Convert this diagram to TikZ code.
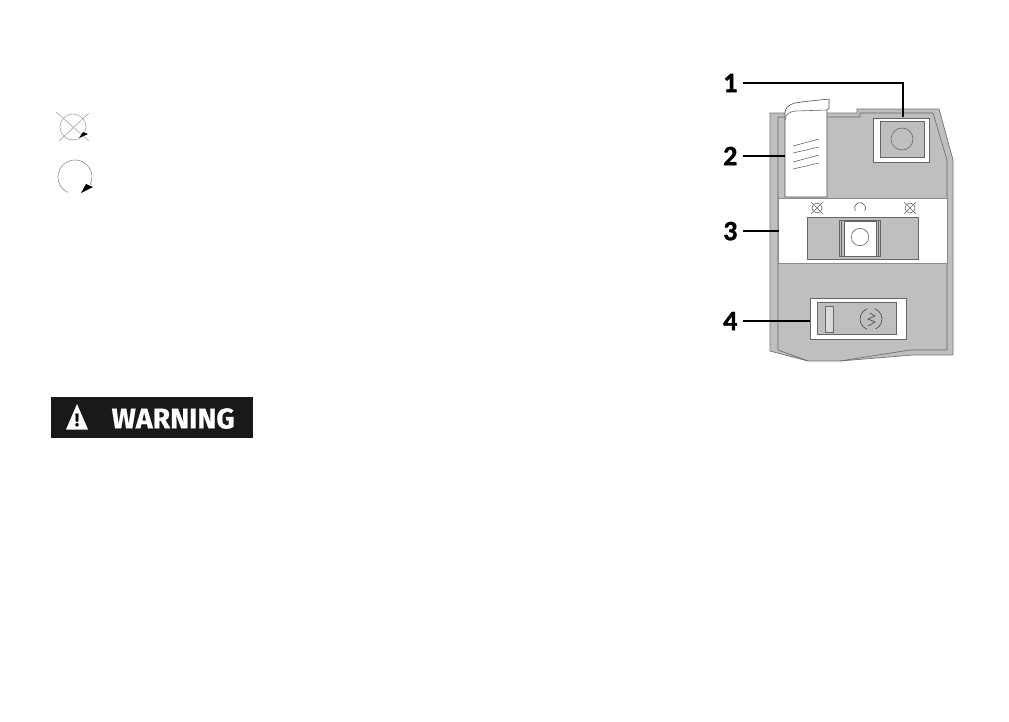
\documentclass[tikz,border=0pt]{standalone}
\usepackage{fontspec}
\newfontfamily\labelfont[FakeBold=1.2]{Carlito}
\newfontfamily\signfont[FakeBold=0.6]{Fira Sans}
\tikzset{
	body/.style={draw=black!55, line width=0.7pt, fill=black!25},
	sheet/.style={draw=black!60, line width=0.6pt, fill=white},
	thin line/.style={draw=black!60, line width=0.6pt},
	lamp/.style={draw=black!35, line width=0.6pt},
	leader/.style={draw=black, line width=1.5pt},
	numlabel/.style={font=\labelfont\bfseries\fontsize{28}{28}\selectfont, anchor=east, minimum width=25pt, inner sep=0pt, text depth=0pt},
}
\begin{document}
\begin{tikzpicture}[x=1pt, y=-1pt]
	\useasboundingbox (0,0) rectangle (1009,721);
	% lamp symbols on the left
	\path[lamp] (73,127) circle[radius=13];
	\draw[lamp] (56,112) -- (89,141) (89,113) -- (59,141);
	\fill[black] (79,138) -- (83,132) -- (88,134) -- cycle;
	\draw[lamp, draw=black!45] (75,177) ++(115:17) arc[start angle=115, end angle=387, radius=17];
	\fill[black] (81,193) -- (86,184) -- (93,187) -- cycle;
	% warning sign
	\node[fill=black!90, minimum width=202pt, minimum height=41pt, inner sep=0pt] (warnsign) at (152,417.5) {};
	\fill[white] (66,429.5) -- (88,429.5) -- (77,404) -- cycle;
	\node[text=black, font=\signfont\bfseries\fontsize{18}{18}\selectfont, inner sep=0pt] (warnmark) at (77,420) {!};
	\node[text=white, font=\signfont\bfseries\fontsize{28.5}{28.5}\selectfont, inner sep=0pt, anchor=west] (warntext) at (111.5,418.5) {WARNING};
	% housing
	\path[body] (770,113) -- (857,113) -- (857,109) -- (939,109) -- (953,160) -- (953,355)
		-- (913,355) -- (840,361) -- (808,361) -- (770,351) -- cycle;
	\draw[thin line] (778,117) -- (860,117) -- (860,113) -- (933,113) -- (947,160) -- (947,350)
		-- (910,350) -- (840,361) (778,117) -- (778,350) -- (808,361);
	\path[sheet, draw=black!45] (778,198) rectangle (947,263);
	% flap
	\path[sheet, draw=black!70] (785,197) -- (827,197) -- (827,110) -- (829,108) -- (829,99)
		.. controls (810,101) and (800,102) .. (795,103)
		.. controls (788,105) and (785,108) .. (785,113) -- cycle;
	\draw[thin line] (785,120) .. controls (786,114) and (789,112) .. (795,111) -- (827,110);
	\foreach \ya/\yb in {146/139, 153/147, 162/155, 169/163}
		\draw[thin line] (793,\ya) -- (819,\yb);
	% upper button
	\path[sheet] (873,118) rectangle (929,162);
	\path[thin line, fill=black!25] (880,121) rectangle (924,157);
	\draw[thin line] (902,139) circle[radius=11];
	\coordinate (btntop) at (903,117);
	\coordinate (flapedge) at (785,156);
	% indicator symbols in the band
	\foreach \xc in {817,910} {
		\draw[lamp, draw=black!60] (\xc,208) circle[radius=5];
		\draw[lamp, draw=black!60] (\xc-6,202) -- (\xc+6,214) (\xc+6,202) -- (\xc-6,214);
	}
	\draw[lamp, draw=black!70] (860,208) ++(150:5.5) arc[start angle=150, end angle=390, radius=5.5];
	% slider
	\path[thin line, fill=black!25] (807,217) rectangle (918,259);
	\path[sheet, fill=black!25] (839,220) rectangle (880,256);
	\path[sheet] (844,221) rectangle (876,256);
	\draw[thin line] (841.5,220) -- (841.5,256) (878,220) -- (878,256);
	\draw[thin line] (860,237) circle[radius=8.7];
	\coordinate (bandedge) at (779,231);
	% heater switch
	\path[sheet] (810,298) rectangle (906,339);
	\path[thin line, fill=black!25] (817,302) rectangle (896,334);
	\path[thin line, fill=white!85!black] (825,306) rectangle (833,332);
	\draw[thin line, draw=black!75] (871,319) ++(-70:11) arc[start angle=-70, end angle=65, radius=11];
	\draw[thin line, draw=black!75] (871,319) ++(110:11) arc[start angle=110, end angle=250, radius=11];
	\draw[thin line, draw=black!75] (868,326) -- (875,322) -- (868,319) -- (875,316) -- (870,313);
	\coordinate (plateedge) at (810,321);
	% numbered leaders
	\node[numlabel] (lab1) at (743,83) {1};
	\node[numlabel] (lab2) at (743,156) {2};
	\node[numlabel] (lab3) at (743,231) {3};
	\node[numlabel] (lab4) at (743,321) {4};
	\draw[leader] (lab1.east) -| (btntop);
	\draw[leader] (lab2.east) -- (flapedge);
	\draw[leader] (lab3.east) -- (bandedge);
	\draw[leader] (lab4.east) -- (plateedge);
\end{tikzpicture}
\end{document}
